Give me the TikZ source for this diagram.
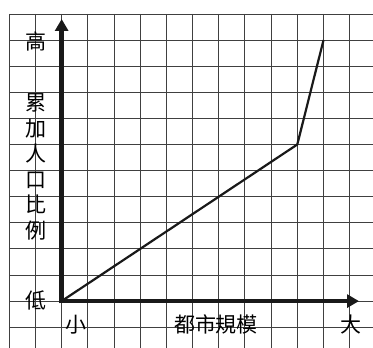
\documentclass[tikz,border=0pt]{standalone}
\usepackage{fontspec}
\newfontfamily\cjk{Noto Sans CJK TC}
\usetikzlibrary{arrows.meta}
\begin{document}
\begin{tikzpicture}[x=1pt,y=1pt,
  gridline/.style={black!75,line width=0.9pt},
  axisline/.style={black!90,line width=4.5pt,-{Triangle[width=13pt,length=12pt]}},
  curveline/.style={black!90,line width=2.2pt,line join=round},
  lbl/.style={font=\cjk\fontsize{21}{25.5}\selectfont,inner sep=0pt,align=center}]
\useasboundingbox (0,0) rectangle (373,348);
% grid
\foreach \k in {0,...,13}
  \draw[gridline] ({9.3+26.18*\k},{348-14}) -- ({9.3+26.18*\k},0);
\foreach \k in {0,...,12}
  \draw[gridline] (9.3,{348-14-26.1*\k}) -- (373,{348-14-26.1*\k});
% coordinates
\coordinate (o) at (61.66,{348-301.1});
\coordinate (ytip) at (61.66,{348-19});
\coordinate (xtip) at (359,{348-301.1});
\coordinate (kink) at (297.3,{348-144.5});
\coordinate (top) at (323.5,{348-40.1});
% curve
\draw[curveline] (o) -- (kink) -- (top);
% axes
\draw[axisline,line cap=butt] ([xshift=-2.25pt]o) -- (xtip);
\draw[axisline] ([yshift=-2.25pt]o) -- (ytip);
% labels
\node[lbl] (high) at (36,{348-41}) {高};
\node[lbl] (ylab) at (36,{348-167}) {累\\加\\人\\口\\比\\例};
\node[lbl] (low) at (36,{348-300}) {低};
\node[lbl] (small) at (76,{348-325}) {小};
\node[lbl] (xlab) at (216,{348-324}) {都市規模};
\node[lbl] (big) at (350.5,{348-325}) {大};
\end{tikzpicture}
\end{document}
